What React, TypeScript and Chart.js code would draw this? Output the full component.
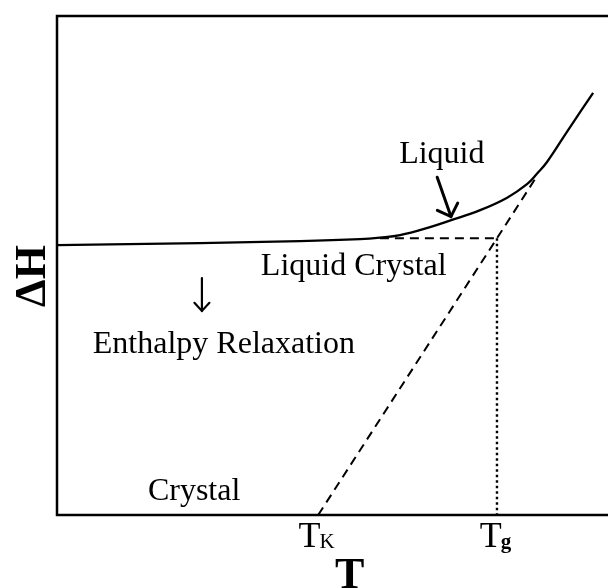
import React, { useEffect, useRef } from "react";
import { Chart, registerables } from "chart.js";

Chart.register(...registerables);

// Liquid branch: enthalpy vs temperature (arbitrary units)
const liquidT = [0, 25.95, 44.1, 55.0, 58.6, 62.25, 67.7, 71.3, 76.8, 81.7, 85.3, 87.1, 88.9, 92.7, 97.3];
const liquidH = [54.1, 54.5, 54.9, 55.3, 55.6, 56.1, 57.7, 59.0, 61.1, 63.6, 66.3, 68.4, 70.7, 77.05, 84.6];

// Extrapolated crystal-like line through T_K and T_g
const extrapT = [47.4, 79.85, 87.1];
const extrapH = [0, 55.45, 67.9];

// Liquid-crystal (glass) level below T_g
const glassT = [58.6, 79.85];
const glassH = [55.45, 55.45];

// Drop line at T_g
const tgDropT = [79.85, 79.85];
const tgDropH = [55.45, 0];

// Characteristic temperatures on the T axis
const tempTickValues = [47.4, 79.85];
const tempTickMain = ["T", "T"];
const tempTickSubs = ["K", "g"];

// Region labels (left edge / baseline, in data units)
const labelTexts = ["Liquid", "Liquid Crystal", "Enthalpy Relaxation", "Crystal"];
const labelT = [62.1, 37.0, 6.5, 16.5];
const labelH = [70.5, 48.0, 32.5, 3.0];

const zip = (xs: number[], ys: number[]) => xs.map((x, i) => ({ x, y: ys[i] }));

const SERIF = "'Liberation Serif', 'Times New Roman', serif";

function arrow(
  ctx: CanvasRenderingContext2D,
  x1: number,
  y1: number,
  x2: number,
  y2: number,
  head: number,
  spread: number,
  width: number
) {
  const ang = Math.atan2(y2 - y1, x2 - x1);
  ctx.save();
  ctx.strokeStyle = "#000";
  ctx.lineWidth = width;
  ctx.lineCap = "round";
  ctx.lineJoin = "miter";
  ctx.beginPath();
  ctx.moveTo(x1, y1);
  ctx.lineTo(x2, y2);
  ctx.stroke();
  ctx.beginPath();
  ctx.moveTo(x2 - head * Math.cos(ang - spread), y2 - head * Math.sin(ang - spread));
  ctx.lineTo(x2, y2);
  ctx.lineTo(x2 - head * Math.cos(ang + spread), y2 - head * Math.sin(ang + spread));
  ctx.stroke();
  ctx.restore();
}

const decorPlugin = {
  id: "decor",
  afterDatasetsDraw(chart: any) {
    const { ctx, chartArea } = chart;
    const xs = chart.scales.x;
    const ys = chart.scales.y;
    const { left, top, right, bottom } = chartArea;

    // Frame: left, top and bottom edges
    ctx.save();
    ctx.strokeStyle = "#000";
    ctx.lineWidth = 2.5;
    ctx.lineCap = "square";
    ctx.beginPath();
    ctx.moveTo(right + 2, top);
    ctx.lineTo(left, top);
    ctx.lineTo(left, bottom);
    ctx.lineTo(right + 2, bottom);
    ctx.stroke();
    ctx.restore();

    // Region labels
    ctx.save();
    ctx.fillStyle = "#000";
    ctx.textBaseline = "alphabetic";
    ctx.textAlign = "left";
    ctx.font = `32px ${SERIF}`;
    labelTexts.forEach((t, i) => {
      ctx.fillText(t, xs.getPixelForValue(labelT[i]), ys.getPixelForValue(labelH[i]));
    });

    // T_K, T_g tick labels
    tempTickValues.forEach((v, i) => {
      const px = xs.getPixelForValue(v);
      const subFont = `${i === 1 ? "bold " : ""}21px ${SERIF}`;
      ctx.font = `36px ${SERIF}`;
      const mainW = ctx.measureText(tempTickMain[i]).width;
      ctx.font = subFont;
      const subW = ctx.measureText(tempTickSubs[i]).width;
      const x0 = px - (mainW + subW) / 2 - 1;
      ctx.font = `36px ${SERIF}`;
      ctx.fillText(tempTickMain[i], x0, bottom + 32);
      ctx.font = subFont;
      ctx.fillText(tempTickSubs[i], x0 + mainW - 1, bottom + 33);
    });

    // Axis titles
    ctx.font = `bold 44px ${SERIF}`;
    ctx.textAlign = "center";
    ctx.fillText("T", xs.getPixelForValue(53.1), bottom + 73);
    ctx.save();
    ctx.translate(left - 12, ys.getPixelForValue(47.9));
    ctx.rotate(-Math.PI / 2);
    ctx.textBaseline = "alphabetic";
    ctx.fillText("ΔH", 0, 0);
    ctx.restore();
    ctx.restore();

    // Pointer to the liquid curve
    arrow(
      ctx,
      xs.getPixelForValue(69.0),
      ys.getPixelForValue(67.7),
      xs.getPixelForValue(71.5),
      ys.getPixelForValue(59.8),
      15,
      0.8,
      3
    );
    // Relaxation direction
    arrow(
      ctx,
      xs.getPixelForValue(26.3),
      ys.getPixelForValue(47.5),
      xs.getPixelForValue(26.3),
      ys.getPixelForValue(40.9),
      11,
      0.75,
      2.2
    );
  },
};

export default function App() {
  const ref = useRef<HTMLCanvasElement>(null);

  useEffect(() => {
    if (!ref.current) return;
    const chart = new Chart(ref.current, {
      type: "line",
      data: {
        datasets: [
          {
            data: zip(liquidT, liquidH),
            borderColor: "#000",
            borderWidth: 2.3,
            pointRadius: 0,
            tension: 0.4,
          },
          {
            data: zip(extrapT, extrapH),
            borderColor: "#000",
            borderWidth: 2,
            borderDash: [9, 6],
            pointRadius: 0,
          },
          {
            data: zip(glassT, glassH),
            borderColor: "#000",
            borderWidth: 2,
            borderDash: [9, 6],
            pointRadius: 0,
          },
          {
            data: zip(tgDropT, tgDropH),
            borderColor: "#000",
            borderWidth: 2.4,
            borderDash: [2.5, 3],
            pointRadius: 0,
          },
        ],
      },
      options: {
        responsive: false,
        animation: false,
        events: [],
        layout: { padding: { left: 57, top: 16, right: 0, bottom: 73 } },
        plugins: { legend: { display: false }, tooltip: { enabled: false } },
        scales: {
          x: { type: "linear", min: 0, max: 100, display: false },
          y: { type: "linear", min: 0, max: 100, display: false },
        },
      },
      plugins: [decorPlugin],
    });
    return () => chart.destroy();
  }, []);

  return (
    <div style={{ position: "absolute", left: 0, top: 0, width: 608, height: 588, background: "#fff" }}>
      <canvas ref={ref} width={608} height={588} style={{ display: "block" }} />
    </div>
  );
}
